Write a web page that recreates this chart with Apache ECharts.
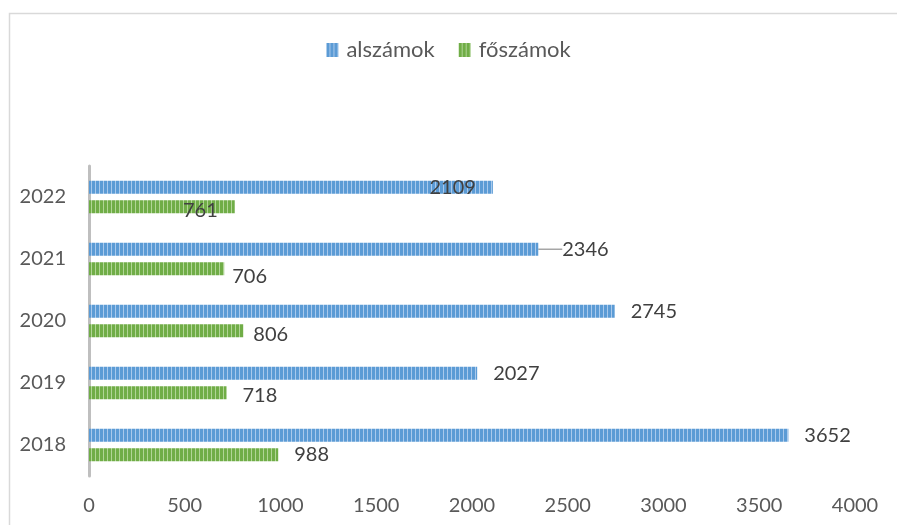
<!DOCTYPE html>
<html>
<head>
<meta charset="utf-8">
<script src="https://cdn.jsdelivr.net/npm/echarts@6/dist/echarts.min.js"></script>
<style>
  html, body { margin: 0; padding: 0; background: #fff; }
  #chart { width: 897px; height: 525px; }
</style>
</head>
<body>
<div id="chart"></div>
<script>
// adatok
const years = ['2018', '2019', '2020', '2021', '2022'];
const alszamok = [3652, 2027, 2745, 2346, 2109];
const foszamok = [988, 718, 806, 706, 761];
const xTicks = { min: 0, max: 4000, interval: 500 };

// csíkos minta a sávokhoz
const stripes = (dark, light) => {
    const c = document.createElement('canvas');
    c.width = 4; c.height = 4;
    const ctx = c.getContext('2d');
    ctx.fillStyle = dark;
    ctx.fillRect(0, 0, 4, 4);
    ctx.fillStyle = light;
    ctx.fillRect(3, 0, 1, 4);
    return { image: c, repeat: 'repeat' };
};
const bluePat = stripes('#5b9bd5', '#a9c9ec');
const greenPat = stripes('#70ad47', '#b1d596');

const font = 'Lato, "Open Sans", sans-serif';

const chart = echarts.init(document.getElementById('chart'));

// címkék egyedi elhelyezése (mint az eredetin)
const blueData = alszamok.map((v, i) => {
    const item = { value: v };
    if (i === 4) item.label = { position: 'insideRight', distance: 17, offset: [0, 2] };
    if (i === 3) {
        item.label = { distance: 5, padding: [0, 0, 0, 9] };
        item.labelLine = { show: true, lineStyle: { color: '#a6a6a6', width: 1.5 } };
    }
    return item;
});
const greenData = foszamok.map((v, i) => {
    const item = { value: v };
    if (i === 4) item.label = { position: 'insideRight', distance: 17, offset: [0, 4] };
    if (i === 3) item.label = { distance: 8, offset: [0, 8] };
    if (i === 2) item.label = { distance: 10, offset: [0, 4] };
    if (i === 1) item.label = { offset: [0, 3] };
    return item;
});

const labelBase = {
    show: true,
    position: 'right',
    distance: 16,
    color: '#404040',
    fontSize: 20,
    fontFamily: font
};

chart.setOption({
    animation: false,
    graphic: [{
        type: 'rect',
        left: 7, top: 11,
        shape: { width: 900, height: 530 },
        style: { fill: 'none', stroke: '#d9d9d9', lineWidth: 1.5 },
        silent: true
    }],
    legend: {
        data: ['alszámok', 'főszámok'],
        top: 34,
        left: 'center',
        icon: 'rect',
        itemWidth: 12,
        itemHeight: 14,
        itemGap: 24,
        textStyle: { color: '#595959', fontSize: 22, fontFamily: font, padding: [0, 0, 0, 3] }
    },
    grid: { left: 89, right: 42, top: 166, bottom: 49 },
    xAxis: {
        type: 'value',
        min: xTicks.min,
        max: xTicks.max,
        interval: xTicks.interval,
        axisLine: { show: false },
        axisTick: { show: false },
        splitLine: { show: false },
        axisLabel: {
            color: '#595959', fontSize: 20, fontFamily: font, margin: 20,
            formatter: (v) => String(v)
        }
    },
    yAxis: {
        type: 'category',
        data: years,
        axisLine: { show: true, lineStyle: { color: '#bfbfbf', width: 3 } },
        axisTick: { show: false },
        axisLabel: { color: '#595959', fontSize: 20, fontFamily: font, margin: 23 }
    },
    series: [{
        name: 'alszámok',
        type: 'bar',
        data: blueData,
        barWidth: 13,
        barGap: '50%',
        itemStyle: { color: bluePat },
        label: labelBase,
        labelLayout: (params) => params.dataIndex === 3 ? { dx: 10 } : {}
    }, {
        name: 'főszámok',
        type: 'bar',
        data: greenData,
        barWidth: 13,
        barGap: '50%',
        itemStyle: { color: greenPat },
        label: labelBase
    }]
});
</script>
</body>
</html>
